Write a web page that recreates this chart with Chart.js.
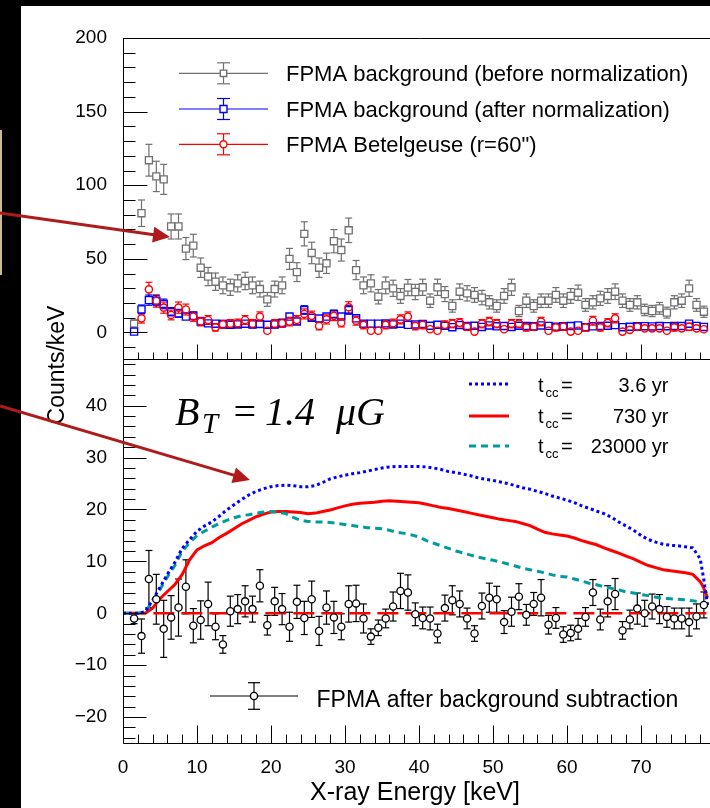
<!DOCTYPE html>
<html>
<head>
<meta charset="utf-8">
<script src="https://cdn.jsdelivr.net/npm/chart.js@4.4.1/dist/chart.umd.min.js"></script>
<style>
  html, body { margin: 0; padding: 0; background: #000; overflow: hidden; width: 710px; height: 808px; }
  #sheet { position: absolute; left: 21px; top: 6px; width: 689px; height: 802px; background: #fff; }
  #edge { position: absolute; left: 0; top: 130px; width: 2px; height: 145px; background: #cdb994; }
  canvas { position: absolute; left: 0; top: 0; }
  svg { position: absolute; left: 0; top: 0; }
</style>
</head>
<body>
<div id="sheet"></div>
<div id="edge"></div>
<canvas id="topPanel" width="740" height="808"></canvas>
<canvas id="bottomPanel" width="740" height="808"></canvas>
<svg width="710" height="808">
  <g stroke="#b11a1a" stroke-width="3" fill="#b11a1a">
    <line x1="0" y1="213" x2="154" y2="234.7"/>
    <polygon points="170,237 152.1,242.5 154.3,226.7" stroke="none"/>
    <line x1="0" y1="406" x2="234.5" y2="475.4"/>
    <polygon points="250,480 231.4,482.9 236.0,467.5" stroke="none"/>
  </g>
</svg>
<script>
// ---------- energy bins (keV) ----------
const binCenters = [1.5,2.5,3.5,4.5,5.5,6.5,7.5,8.5,9.5,10.5,11.5,12.5,13.5,14.5,15.5,16.5,17.5,18.5,19.5,20.5,
  21.5,22.5,23.5,24.5,25.5,26.5,27.5,28.5,29.5,30.5,31.5,32.5,33.5,34.5,35.5,36.5,37.5,38.5,39.5,40.5,
  41.5,42.5,43.5,44.5,45.5,46.5,47.5,48.5,49.5,50.5,51.5,52.5,53.5,54.5,55.5,56.5,57.5,58.5,59.5,60.5,
  61.5,62.5,63.5,64.5,65.5,66.5,67.5,68.5,69.5,70.5,71.5,72.5,73.5,74.5,75.5,76.5,77.5,78.5];

// ---------- upper panel: spectra (counts/keV) ----------
const bkgBefore = [6,81,117,106,104,72,72,57,59,44, 38,34.5,32,30.7,33.4,35,32,29.5,22.5,29.5,
  32,50,41,67,54,44,47,62,56,69.4, 42.4,32,33.4,24.3,32,30,24.8,30.5,27.5,30.7,
  21.6,30.7,26.1,18,27.7,26.6,25.5,23.7,20.5,18, 24.8,30.7,14.6,21.6,18,21.6,21.6,25.5,21.6,24.8,
  27,18.7,20.5,23.2,24.8,27.7,21.6,18.7,20.5,15.3, 14.6,16.4,13.5,20.5,21.6,30,18.7,14.1];
const bkgBeforeErr = [2.5,9,10.8,10.3,10.2,8.5,8.5,7.5,7.7,6.6, 6.2,5.9,5.7,5.5,5.8,5.9,5.7,5.4,4.7,5.4,
  5.7,7.1,6.4,8.2,7.3,6.6,6.9,7.9,7.5,8.3, 6.5,5.7,5.8,4.9,5.7,5.5,5.0,5.5,5.2,5.5,
  4.6,5.5,5.1,4.2,5.3,5.2,5.0,4.9,4.5,4.2, 5.0,5.5,3.8,4.6,4.2,4.6,4.6,5.0,4.6,5.0,
  5.2,4.3,4.5,4.8,5.0,5.3,4.6,4.3,4.5,3.9, 3.8,4.0,3.7,4.5,4.6,5.5,4.3,3.8];

const bkgAfter = [0.6,15.7,22,21.6,19.4,14.1,13,10.8,11.3,7.4, 6.2,6,5.8,5.2,5.5,6,5.5,5.8,5.2,5.5,
  6.5,10.8,7.4,15.3,10,9.5,10.8,12.6,10.8,15.3, 9.6,6,6,6,6.2,5.5,6,5.2,5.5,5.8,
  4.6,5.2,4.5,3.6,5,4.4,4.6,3.8,4.8,4.2, 4.4,3.8,4.6,4.4,4.2,4.8,4.5,3.9,4.3,4.4,
  4.8,3.6,4.2,4.5,4.6,5,3.6,3.9,4.2,4.3, 4.1,4.4,4.3,4.4,4.4,6,4.5,3.8];
const bkgAfterErr = [1.2,3,3.5,3.4,3.3,2.8,2.7,2.4,2.5,2.0, 1.9,1.9,1.8,1.7,1.8,1.9,1.8,1.8,1.7,1.8,
  1.9,2.4,2.0,2.9,2.3,2.3,2.4,2.6,2.4,2.9, 2.3,1.8,1.8,1.8,1.8,1.7,1.8,1.7,1.7,1.8,
  1.6,1.7,1.6,1.5,1.6,1.6,1.6,1.5,1.6,1.5, 1.6,1.5,1.6,1.6,1.5,1.6,1.6,1.5,1.6,1.6,
  1.6,1.5,1.5,1.6,1.6,1.6,1.5,1.5,1.5,1.6, 1.5,1.6,1.6,1.6,1.6,1.8,1.6,1.5];

const source = [null,9.6,29.3,21.4,16.9,11.9,16.9,15.6,10.8,7.4, 8.5,3.5,5.5,6,6.3,8.5,6,10.8,1.2,6,
  6.3,7.4,8.5,12.6,11.3,4.4,8.9,11.3,6.6,17.1, 8,5.2,1.2,1.2,5.2,6.3,8.9,10.8,4.4,5.2,
  2.2,1.2,5.2,6,6.6,3.9,0.6,6,7.4,6, 2.2,6,6,3.5,3.9,7.4,1.2,3.5,4,0.6,
  1.2,3.5,8,3.5,6.6,9.6,0.6,1.8,3.9,2.8, 2.8,2.8,1.2,3.5,2.8,3.9,2.8,2.2];
const sourceErr = [null,3.2,4.8,4.2,3.8,3.3,3.8,3.7,3.2,2.9, 3.0,2.5,2.7,2.8,2.8,3.0,2.8,3.2,2.2,2.8,
  2.8,2.9,3.0,3.4,3.2,2.6,3.1,3.2,2.8,3.8, 3.0,2.7,2.2,2.2,2.7,2.8,3.1,3.2,2.6,2.7,
  2.4,2.2,2.7,2.8,2.8,2.5,2.0,2.8,2.9,2.8, 2.4,2.8,2.8,2.5,2.5,2.9,2.2,2.5,2.6,2.0,
  2.2,2.5,3.0,2.5,2.8,3.1,2.0,2.3,2.5,2.4, 2.4,2.4,2.2,2.5,2.4,2.5,2.4,2.3];

// ---------- lower panel: background-subtracted spectrum ----------
const netCounts = [-1.0,-4.4,6.6,2.7,-3.0,-0.8,1.1,5.1,-2.4,-1.3, 1.8,-2.6,-6.0,0.4,0.8,2.3,0.8,5.3,-2.3,2.3,
  0.8,-2.6,2.2,-0.9,2.7,-3.4,1.1,-0.8,-2.6,1.8, 1.9,-1.0,-4.5,-2.8,-1.0,1.3,4.3,4.0,-0.2,-0.9,
  -1.0,-3.9,1.0,2.5,1.8,-1.0,-3.9,1.4,3.0,2.7, -1.7,0.3,3.2,-0.3,1.8,3.0,-2.2,-0.9,-4.1,-3.8,
  -3.0,-0.7,4.0,-1.2,2.3,3.7,-3.3,-1.2,0.9,0.0, 1.3,0.8,-0.7,-1.0,-1.0,-1.7,-0.6,1.6];
const netErr = [1.0,3.3,5.5,4.8,5.5,4.2,5.5,5.2,3.3,3.7, 4.2,2.5,1.7,2.9,2.8,3.0,2.5,3.1,1.9,2.7,
  3.0,2.8,3.2,3.2,3.5,2.8,3.2,3.1,2.5,3.5, 3.5,2.8,1.5,1.5,1.8,2.8,3.4,3.4,2.2,2.1,
  2.2,1.8,2.5,2.8,2.5,2.0,1.5,2.5,2.8,2.5, 2.2,2.8,2.5,2.0,2.2,3.5,1.8,2.0,1.5,1.5,
  2.0,1.8,2.5,2.0,3.0,3.0,1.7,1.8,3.0,2.5, 2.4,2.8,2.0,2.0,2.0,2.7,2.4,2.5];

// ---------- model curves (t_cc) ----------
const modelEnergy = [0,1,2,3,4,5,6,7,8,9,10,11,12,13,14,15,16,17,18,19,20,21,22,23,24,25,26,27,28,29,
  30,31,32,33,34,35,36,37,38,39,40,41,42,43,44,45,46,47,48,49,50,51,52,53,54,55,56,57,58,59,
  60,61,62,63,64,65,66,67,68,69,70,71,72,73,74,75,76,77,78,78.5,79];
const model3p6 = [0,0,0,0.3,2.5,5,7.5,9.8,12.5,14.2,15.8,16.8,17.6,18.7,19.9,20.9,21.9,22.8,23.5,24,
  24.4,24.6,24.7,24.6,24.4,24.4,24.6,25.2,25.9,26.3,26.6,26.9,27.1,27.4,27.7,28,28.2,28.3,28.3,28.3,
  28.3,28.2,28,27.7,27.3,27.1,26.8,26.5,26.1,25.8,25.6,25.3,25,24.6,24.2,23.9,23.5,23.1,22.6,22.2,
  21.8,21.3,20.7,20.2,19.7,19.2,18.5,17.6,16.8,16.0,15.0,14.2,13.7,13.3,13.1,13.0,12.8,12.6,10.5,6.4,1.5];
const model730 = [0,0,0,0,1,2.8,4.2,5.5,7.5,10.3,12.2,13,13.6,14.6,15.4,16.3,17.2,17.9,18.6,19.1,
  19.5,19.6,19.6,19.5,19.4,19.2,19.3,19.6,19.9,20.3,20.7,21,21.2,21.3,21.4,21.6,21.7,21.6,21.5,21.4,
  21.3,21,20.7,20.4,20.2,19.9,19.6,19.3,19.0,18.7,18.4,18.1,17.9,17.7,17.3,16.9,16.2,15.6,15.3,15.1,
  14.9,14.5,14.0,13.6,13.2,12.6,12.1,11.6,11.0,10.5,9.8,9.2,8.8,8.4,8.2,8.0,7.8,7.5,6.1,4.8,3];
const model23000 = [0,0,0,0.3,2.3,4.6,7,9.2,12,13.6,15,15.8,16.6,17.3,17.9,18.4,18.8,19.0,19.3,19.5,
  19.6,19.5,19.2,18.5,17.9,17.7,17.6,17.6,17.5,17.3,17.1,16.9,16.7,16.5,16.4,16.3,16.0,15.6,15.4,15.1,
  14.7,14.0,13.5,13.0,12.5,12.0,11.6,11.2,10.8,10.5,10.2,9.9,9.5,9.1,8.7,8.4,8.1,7.8,7.4,7.1,
  7.0,6.6,6.2,5.8,5.5,5.1,4.8,4.5,4.1,3.9,3.6,3.4,3.1,2.9,2.8,2.7,2.6,2.4,2.2,1.8,1.2];
const zeroLineEnergy = [4.1, 79];
const zeroLineValue = [0, 0];

// ---------- labels and ticks ----------
const topLegend = ['FPMA background (before normalization)', 'FPMA background (after normalization)', 'FPMA Betelgeuse (r=60")'];
const modelLabels = ['3.6 yr', '730 yr', '23000 yr'];
const dataLabel = 'FPMA after background subtraction';
const topTicks = [0, 50, 100, 150, 200];
const bottomTicks = [-20, -10, 0, 10, 20, 30, 40];
const energyTicks = [0, 10, 20, 30, 40, 50, 60, 70];
const xTitle = 'X-ray Energy [keV]';
const yTitle = 'Counts/keV';

const FONT = "'Liberation Sans', Arial, Helvetica, sans-serif";
const GRAY = '#707070', BLUE = '#0000ff', RED = '#ff0000', TEAL = '#009c9c', BLACK = '#000000';

const pts = (xs, ys) => xs.map((x, i) => ({ x, y: ys[i] }));

function seg(ctx, x1, y1, x2, y2) { ctx.beginPath(); ctx.moveTo(x1, y1); ctx.lineTo(x2, y2); ctx.stroke(); }

// vertical error bars with end caps, left open where the marker sits
const errorBars = {
  id: 'errorBars',
  beforeDatasetsDraw(chart) {
    const { ctx, chartArea: ca } = chart;
    const ys = chart.scales.y;
    ctx.save();
    ctx.beginPath(); ctx.rect(ca.left, ca.top, ca.width, ca.height); ctx.clip();
    chart.data.datasets.forEach((ds, i) => {
      if (!ds.errors) return;
      const meta = chart.getDatasetMeta(i);
      ctx.strokeStyle = ds.borderColor; ctx.lineWidth = 1.2;
      meta.data.forEach((el, j) => {
        const v = ds.data[j].y, e = ds.errors[j];
        if (v == null || e == null) return;
        const x = el.x, yc = el.y;
        const yt = ys.getPixelForValue(v + e), yb = ys.getPixelForValue(v - e);
        const g = ds.gap, c = ds.cap;
        if (yc - yt > g) { seg(ctx, x, yc - g, x, yt); seg(ctx, x - c, yt, x + c, yt); }
        if (yb - yc > g) { seg(ctx, x, yc + g, x, yb); seg(ctx, x - c, yb, x + c, yb); }
      });
    });
    ctx.restore();
  }
};

function drawFrame(chart, o) {
  const { ctx, chartArea: ca, scales: { x, y } } = chart;
  ctx.save();
  ctx.strokeStyle = '#000'; ctx.lineWidth = 1; ctx.setLineDash([]);
  const L = Math.round(ca.left) + 0.5, T = Math.round(ca.top) + 0.5, B = Math.round(ca.bottom) + 0.5, R = ca.right;
  seg(ctx, L, ca.top, L, ca.bottom + 0.5);
  seg(ctx, L, T, R, T);
  seg(ctx, L, B, R, B);
  for (let k = o.yFrom; k <= o.yTo; k += o.yMinor) {
    const py = Math.round(y.getPixelForValue(k)) + 0.5;
    const major = k % o.yMajor === 0;
    seg(ctx, L, py, L + (major ? o.yMajLen : o.yMinLen), py);
  }
  for (let e = 0; e <= 80; e += 2) {
    const px = Math.round(x.getPixelForValue(e)) + 0.5;
    const major = e % 10 === 0;
    seg(ctx, px, B, px, B - (major ? o.xMajLen : o.xMinLen));
  }
  ctx.restore();
}

function markerShape(ctx, style, x, y, color, r) {
  ctx.save();
  ctx.strokeStyle = color; ctx.lineWidth = 1.4; ctx.fillStyle = '#fff';
  ctx.beginPath();
  if (style === 'rect') ctx.rect(x - r, y - r, 2 * r, 2 * r);
  else ctx.arc(x, y, r, 0, Math.PI * 2);
  if (style === 'circleFilled') ctx.fill();
  ctx.stroke();
  ctx.restore();
}

function legendErrorEntry(ctx, o) {
  ctx.save();
  ctx.strokeStyle = o.color; ctx.lineWidth = 1.2;
  seg(ctx, o.x1, o.y, o.cx - o.r, o.y);
  seg(ctx, o.cx + o.r, o.y, o.x2, o.y);
  seg(ctx, o.cx, o.y - o.r, o.cx, o.y - o.eh);
  seg(ctx, o.cx, o.y + o.r, o.cx, o.y + o.eh);
  seg(ctx, o.cx - o.cap, o.y - o.eh, o.cx + o.cap, o.y - o.eh);
  seg(ctx, o.cx - o.cap, o.y + o.eh, o.cx + o.cap, o.y + o.eh);
  ctx.restore();
  markerShape(ctx, o.style, o.cx, o.y, o.color, o.r);
}

const topDecor = {
  id: 'topDecor',
  afterDraw(chart) {
    drawFrame(chart, { yFrom: -10, yTo: 200, yMinor: 10, yMajor: 50, yMajLen: 24, yMinLen: 12, xMajLen: 15, xMinLen: 7 });
    const ctx = chart.ctx;
    const rows = [
      { color: GRAY, style: 'rect', my: 73.3, base: 80.5, r: 3.2 },
      { color: BLUE, style: 'rect', my: 109, base: 116.5, r: 3.5 },
      { color: RED, style: 'circle', my: 144.3, base: 152, r: 3.5 }
    ];
    rows.forEach((rw, i) => {
      legendErrorEntry(ctx, { x1: 179, x2: 268, cx: 223.5, y: rw.my, r: rw.r, eh: 10.5, cap: 6.5, color: rw.color, style: rw.style });
      ctx.save();
      ctx.fillStyle = '#000'; ctx.font = `22px ${FONT}`; ctx.textBaseline = 'alphabetic'; ctx.textAlign = 'left';
      ctx.fillText(topLegend[i], 286, rw.base);
      ctx.restore();
    });
  }
};

const bottomDecor = {
  id: 'bottomDecor',
  afterDraw(chart) {
    drawFrame(chart, { yFrom: -24, yTo: 48, yMinor: 2, yMajor: 10, yMajLen: 23, yMinLen: 12, xMajLen: 18, xMinLen: 9 });
    const ctx = chart.ctx;
    ctx.save();
    ctx.fillStyle = '#000'; ctx.textBaseline = 'alphabetic';

    // model legend
    const styles = [
      { color: BLUE, dash: [3, 3], y: 384, base: 392.3 },
      { color: RED, dash: [], y: 416, base: 423.3 },
      { color: TEAL, dash: [7, 5], y: 446, base: 452.7 }
    ];
    styles.forEach((s, i) => {
      ctx.save();
      ctx.strokeStyle = s.color; ctx.lineWidth = 3; ctx.setLineDash(s.dash);
      seg(ctx, 469, s.y, 509, s.y);
      ctx.restore();
      ctx.textAlign = 'left';
      ctx.font = `20px ${FONT}`; ctx.fillText('t', 538, s.base);
      ctx.font = `13px ${FONT}`; ctx.fillText('cc', 545.5, s.base + 5);
      ctx.font = `20px ${FONT}`; ctx.fillText('=', 561, s.base);
      ctx.textAlign = 'right'; ctx.fillText(modelLabels[i], 668.5, s.base);
    });

    // data legend
    legendErrorEntry(ctx, { x1: 210, x2: 298, cx: 254, y: 696, r: 3.6, eh: 13.3, cap: 6, color: BLACK, style: 'circleFilled' });
    ctx.textAlign = 'left'; ctx.font = `23px ${FONT}`;
    ctx.fillText(dataLabel, 316.5, 706.7);

    // field annotation
    ctx.font = "italic 40px 'Liberation Serif', 'DejaVu Serif', serif";
    ctx.fillText('B', 175, 425);
    ctx.font = "italic 29px 'Liberation Serif', 'DejaVu Serif', serif";
    ctx.fillText('T', 202, 433);
    ctx.font = "italic 40px 'Liberation Serif', 'DejaVu Serif', serif";
    ctx.fillText('=', 231, 425);
    ctx.fillText('1.4', 265, 425);
    ctx.fillText('\u03bcG', 336, 425);

    // axis titles
    ctx.font = `25px ${FONT}`; ctx.textAlign = 'center';
    ctx.fillText(xTitle, 415, 800);
    ctx.font = `23px ${FONT}`;
    ctx.translate(64, 365); ctx.rotate(-Math.PI / 2);
    ctx.fillText(yTitle, 0, 0);
    ctx.restore();
  }
};

const axisFont = { family: FONT, size: 19 };
const minusFmt = v => (v < 0 ? '\u2212' + (-v) : String(v));

// upper panel
new Chart(document.getElementById('topPanel'), {
  type: 'scatter',
  data: {
    datasets: [
      { label: topLegend[2], data: pts(binCenters, source), errors: sourceErr, gap: 3.6, cap: 3.5,
        borderColor: RED, backgroundColor: 'rgba(0,0,0,0)', pointStyle: 'circle', pointRadius: 3.6, borderWidth: 1.4 },
      { label: topLegend[1], data: pts(binCenters, bkgAfter), errors: bkgAfterErr, gap: 3.6, cap: 3.5,
        borderColor: BLUE, backgroundColor: 'rgba(0,0,0,0)', pointStyle: 'rect', pointRadius: 5, borderWidth: 1.4 },
      { label: topLegend[0], data: pts(binCenters, bkgBefore), errors: bkgBeforeErr, gap: 3.6, cap: 3.5,
        borderColor: GRAY, backgroundColor: 'rgba(0,0,0,0)', pointStyle: 'rect', pointRadius: 5, borderWidth: 1.3 }
    ]
  },
  options: {
    responsive: false, animation: false, events: [],
    layout: { padding: { top: 38, left: 0, right: 25, bottom: 448 } },
    plugins: { legend: { display: false }, tooltip: { enabled: false } },
    scales: {
      x: { type: 'linear', min: 0, max: 80, grid: { display: false }, border: { display: false },
           ticks: { display: false }, afterFit(s) { s.height = 1; } },
      y: { type: 'linear', min: -18, max: 200, grid: { display: false }, border: { display: false },
           afterBuildTicks(s) { s.ticks = topTicks.map(v => ({ value: v })); },
           ticks: { font: axisFont, color: '#000', padding: 8, autoSkip: false, callback: minusFmt },
           afterFit(s) { s.width = 123; } }
    }
  },
  plugins: [errorBars, topDecor]
});

// lower panel
new Chart(document.getElementById('bottomPanel'), {
  type: 'scatter',
  data: {
    datasets: [
      { label: dataLabel, data: pts(binCenters, netCounts), errors: netErr, gap: 3.6, cap: 3.5,
        borderColor: BLACK, backgroundColor: '#ffffff', pointStyle: 'circle', pointRadius: 3.6, borderWidth: 1.3 },
      { label: 't_cc = ' + modelLabels[0], data: pts(modelEnergy, model3p6), showLine: true, pointRadius: 0,
        borderColor: BLUE, borderWidth: 3, borderDash: [3, 3], tension: 0 },
      { label: 't_cc = ' + modelLabels[2], data: pts(modelEnergy, model23000), showLine: true, pointRadius: 0,
        borderColor: TEAL, borderWidth: 3, borderDash: [7, 5], tension: 0 },
      { label: 't_cc = ' + modelLabels[1], data: pts(modelEnergy, model730), showLine: true, pointRadius: 0,
        borderColor: RED, borderWidth: 3, tension: 0 },
      { label: 'zero', data: pts(zeroLineEnergy, zeroLineValue), showLine: true, pointRadius: 0,
        borderColor: RED, borderWidth: 2.5, borderDash: [21, 7] }
    ]
  },
  options: {
    responsive: false, animation: false, events: [],
    layout: { padding: { top: 359, left: 0, right: 25, bottom: 0 } },
    plugins: { legend: { display: false }, tooltip: { enabled: false } },
    scales: {
      x: { type: 'linear', min: 0, max: 80, grid: { display: false }, border: { display: false },
           afterBuildTicks(s) { s.ticks = energyTicks.map(v => ({ value: v })); },
           ticks: { font: axisFont, color: '#000', padding: 5, autoSkip: false, maxRotation: 0 },
           afterFit(s) { s.height = 65; } },
      y: { type: 'linear', min: -25, max: 49, grid: { display: false }, border: { display: false },
           afterBuildTicks(s) { s.ticks = bottomTicks.map(v => ({ value: v })); },
           ticks: { font: axisFont, color: '#000', padding: 8, autoSkip: false, callback: minusFmt },
           afterFit(s) { s.width = 123; } }
    }
  },
  plugins: [errorBars, bottomDecor]
});
</script>
</body>
</html>
